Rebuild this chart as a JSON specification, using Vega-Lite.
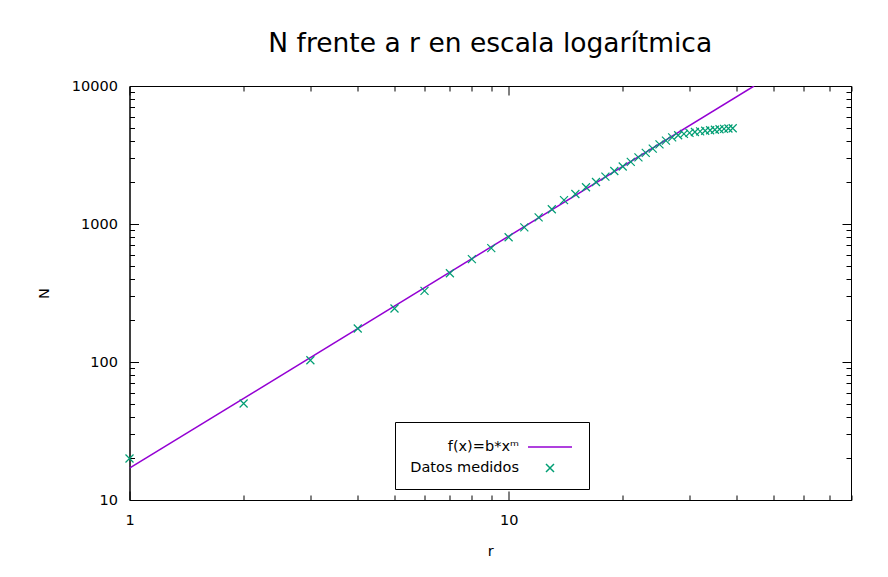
{
  "$schema": "https://vega.github.io/schema/vega-lite/v6.json",
  "autosize": {"type": "none"},
  "width": 721.5,
  "height": 414,
  "padding": {"left": 129.5, "top": 86, "right": 37, "bottom": 77},
  "background": "white",
  "title": {"text": "N frente a r en escala logarítmica", "font": "DejaVu Sans", "fontSize": 26.5, "fontWeight": "normal", "color": "black", "anchor": "middle", "frame": "group", "offset": 21},
  "config": {
    "view": {"stroke": "black", "strokeWidth": 1},
    "axis": {"domainColor": "black", "tickColor": "black", "labelColor": "black", "titleColor": "black", "labelFont": "DejaVu Sans", "titleFont": "DejaVu Sans", "labelFontSize": 14.5, "titleFontSize": 14.5, "titleFontWeight": "normal", "grid": false, "labelFlush": false}
  },
  "datasets": {
    "medidos": [
      {"r": 1, "N": 20, "serie": "Datos medidos"},
      {"r": 2, "N": 50, "serie": "Datos medidos"},
      {"r": 3, "N": 103, "serie": "Datos medidos"},
      {"r": 4, "N": 175, "serie": "Datos medidos"},
      {"r": 5, "N": 244, "serie": "Datos medidos"},
      {"r": 6, "N": 328, "serie": "Datos medidos"},
      {"r": 7, "N": 440, "serie": "Datos medidos"},
      {"r": 8, "N": 557, "serie": "Datos medidos"},
      {"r": 9, "N": 668, "serie": "Datos medidos"},
      {"r": 10, "N": 802, "serie": "Datos medidos"},
      {"r": 11, "N": 946, "serie": "Datos medidos"},
      {"r": 12, "N": 1118, "serie": "Datos medidos"},
      {"r": 13, "N": 1280, "serie": "Datos medidos"},
      {"r": 14, "N": 1490, "serie": "Datos medidos"},
      {"r": 15, "N": 1650, "serie": "Datos medidos"},
      {"r": 16, "N": 1845, "serie": "Datos medidos"},
      {"r": 17, "N": 2015, "serie": "Datos medidos"},
      {"r": 18, "N": 2205, "serie": "Datos medidos"},
      {"r": 19, "N": 2420, "serie": "Datos medidos"},
      {"r": 20, "N": 2610, "serie": "Datos medidos"},
      {"r": 21, "N": 2820, "serie": "Datos medidos"},
      {"r": 22, "N": 3040, "serie": "Datos medidos"},
      {"r": 23, "N": 3280, "serie": "Datos medidos"},
      {"r": 24, "N": 3520, "serie": "Datos medidos"},
      {"r": 25, "N": 3780, "serie": "Datos medidos"},
      {"r": 26, "N": 4020, "serie": "Datos medidos"},
      {"r": 27, "N": 4240, "serie": "Datos medidos"},
      {"r": 28, "N": 4400, "serie": "Datos medidos"},
      {"r": 29, "N": 4500, "serie": "Datos medidos"},
      {"r": 30, "N": 4580, "serie": "Datos medidos"},
      {"r": 31, "N": 4640, "serie": "Datos medidos"},
      {"r": 32, "N": 4690, "serie": "Datos medidos"},
      {"r": 33, "N": 4740, "serie": "Datos medidos"},
      {"r": 34, "N": 4780, "serie": "Datos medidos"},
      {"r": 35, "N": 4820, "serie": "Datos medidos"},
      {"r": 36, "N": 4860, "serie": "Datos medidos"},
      {"r": 37, "N": 4890, "serie": "Datos medidos"},
      {"r": 38, "N": 4920, "serie": "Datos medidos"},
      {"r": 39, "N": 4940, "serie": "Datos medidos"}
    ],
    "ajuste": [
      {"r": 1, "N": 17, "serie": "f(x)=b*xᵐ"},
      {"r": 44.4, "N": 10000, "serie": "f(x)=b*xᵐ"}
    ]
  },
  "layer": [
    {
      "data": {"name": "ajuste"},
      "mark": {"type": "line", "strokeWidth": 1.5, "clip": true},
      "encoding": {
        "x": {"field": "r", "type": "quantitative", "scale": {"type": "log", "domain": [1, 80], "nice": false},
          "axis": {"orient": "top", "labels": false, "title": null, "values": [1,2,3,4,5,6,7,8,9,10,20,30,40,50,60,70,80], "tickSize": {"expr": "(datum.value == 1 || datum.value == 10) ? -9 : -5"}}},
        "y": {"field": "N", "type": "quantitative", "scale": {"type": "log", "domain": [10, 10000], "nice": false},
          "axis": {"orient": "right", "labels": false, "title": null, "values": [10,20,30,40,50,60,70,80,90,100,200,300,400,500,600,700,800,900,1000,2000,3000,4000,5000,6000,7000,8000,9000,10000], "tickSize": {"expr": "(datum.value == 10 || datum.value == 100 || datum.value == 1000 || datum.value == 10000) ? -9 : -5"}}},
        "color": {"field": "serie", "type": "nominal", "scale": {"domain": ["f(x)=b*xᵐ", "Datos medidos"], "range": ["#9400d3", "#009e73"]},
          "legend": {"title": null, "orient": "none", "legendX": 265.5, "legendY": 336, "strokeColor": "black", "padding": 14, "labelFont": "DejaVu Sans", "labelFontSize": 14.5, "labelColor": "black", "labelAlign": "right", "labelBaseline": "middle", "labelOffset": -42, "symbolOffset": 130, "symbolSize": 400, "rowPadding": 3,
            "encode": {"symbols": {"update": {
              "shape": {"signal": "datum.value === 'Datos medidos' ? 'M-0.4,-0.4L0.4,0.4M-0.4,0.4L0.4,-0.4' : 'M-2.2,0L2.2,0'"},
              "stroke": {"signal": "datum.value === 'Datos medidos' ? '#009e73' : '#9400d3'"},
              "strokeWidth": {"value": 1.5},
              "fill": {"value": "transparent"}}}}}}
      }
    },
    {
      "data": {"name": "medidos"},
      "mark": {"type": "point", "shape": "M-1,-1L1,1M-1,1L1,-1", "size": 64, "filled": false, "strokeWidth": 1.2, "opacity": 1},
      "encoding": {
        "x": {"field": "r", "type": "quantitative", "scale": {"type": "log", "domain": [1, 80], "nice": false},
          "axis": {"orient": "bottom", "title": "r", "format": "d", "values": [1,2,3,4,5,6,7,8,9,10,20,30,40,50,60,70,80], "labelExpr": "(datum.value == 1 || datum.value == 10) ? datum.label : ''", "labelPadding": 22, "titlePadding": 18, "tickSize": {"expr": "(datum.value == 1 || datum.value == 10) ? -9 : -5"}}},
        "y": {"field": "N", "type": "quantitative", "scale": {"type": "log", "domain": [10, 10000], "nice": false},
          "axis": {"orient": "left", "title": "N", "format": "d", "values": [10,20,30,40,50,60,70,80,90,100,200,300,400,500,600,700,800,900,1000,2000,3000,4000,5000,6000,7000,8000,9000,10000], "labelExpr": "(datum.value == 10 || datum.value == 100 || datum.value == 1000 || datum.value == 10000) ? datum.label : ''", "labelPadding": 21, "titlePadding": 20, "tickSize": {"expr": "(datum.value == 10 || datum.value == 100 || datum.value == 1000 || datum.value == 10000) ? -9 : -5"}}},
        "color": {"field": "serie", "type": "nominal", "scale": {"domain": ["f(x)=b*xᵐ", "Datos medidos"], "range": ["#9400d3", "#009e73"]},
          "legend": {"title": null, "orient": "none", "legendX": 265.5, "legendY": 336, "strokeColor": "black", "padding": 14, "labelFont": "DejaVu Sans", "labelFontSize": 14.5, "labelColor": "black", "labelAlign": "right", "labelBaseline": "middle", "labelOffset": -42, "symbolOffset": 130, "symbolSize": 400, "rowPadding": 3,
            "encode": {"symbols": {"update": {
              "shape": {"signal": "datum.value === 'Datos medidos' ? 'M-0.4,-0.4L0.4,0.4M-0.4,0.4L0.4,-0.4' : 'M-2.2,0L2.2,0'"},
              "stroke": {"signal": "datum.value === 'Datos medidos' ? '#009e73' : '#9400d3'"},
              "strokeWidth": {"value": 1.5},
              "fill": {"value": "transparent"}}}}}}
      }
    }
  ],
  "resolve": {"axis": {"x": "independent", "y": "independent"}}
}
